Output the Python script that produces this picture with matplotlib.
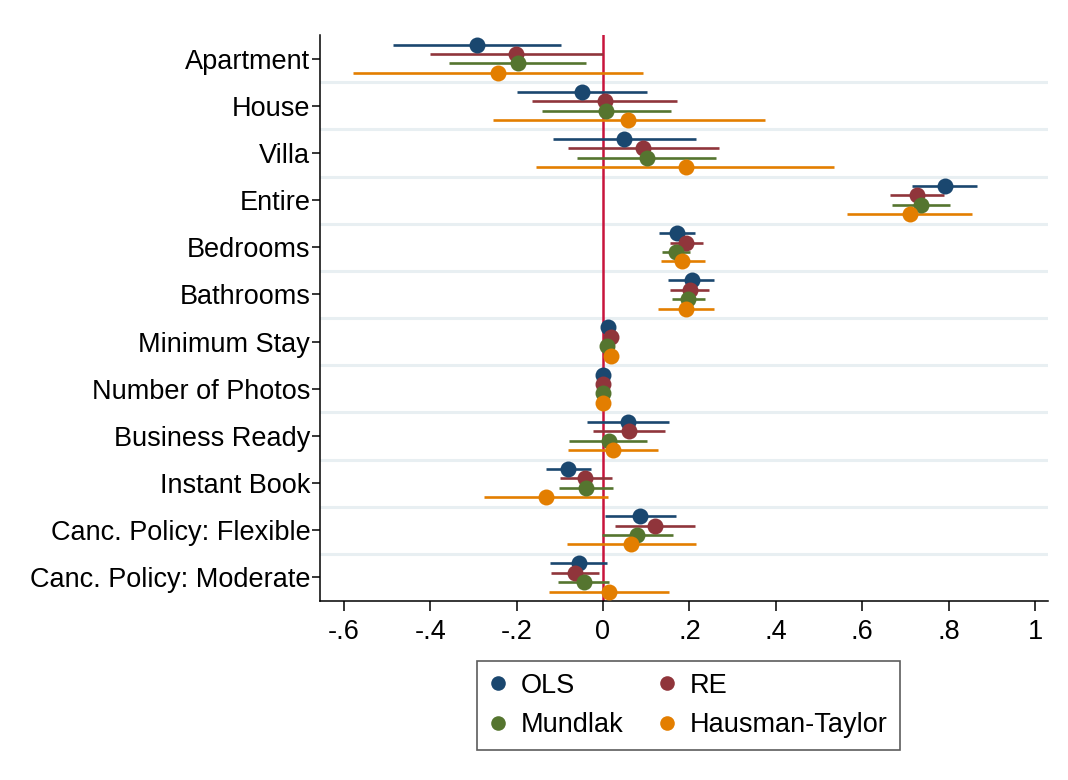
import matplotlib.pyplot as plt
import numpy as np

plt.rcParams['font.family'] = ['Liberation Sans', 'DejaVu Sans']

# coefficient estimates and 95% confidence bounds per model
variables = ['Apartment', 'House', 'Villa', 'Entire', 'Bedrooms', 'Bathrooms',
             'Minimum Stay', 'Number of Photos', 'Business Ready', 'Instant Book',
             'Canc. Policy: Flexible', 'Canc. Policy: Moderate']

ols_coef = [-0.291, -0.048, 0.049, 0.791, 0.171, 0.205, 0.012, 0.000, 0.059, -0.080, 0.086, -0.056]
ols_lo = [-0.485, -0.198, -0.116, 0.715, 0.129, 0.151, 0.008, -0.002, -0.036, -0.131, 0.005, -0.123]
ols_hi = [-0.097, 0.103, 0.215, 0.866, 0.212, 0.258, 0.016, 0.002, 0.153, -0.028, 0.168, 0.010]

re_coef = [-0.201, 0.005, 0.093, 0.727, 0.193, 0.201, 0.019, 0.000, 0.060, -0.041, 0.120, -0.065]
re_lo = [-0.400, -0.164, -0.080, 0.665, 0.154, 0.155, 0.015, -0.002, -0.023, -0.100, 0.027, -0.121]
re_hi = [-0.001, 0.171, 0.268, 0.789, 0.232, 0.246, 0.023, 0.002, 0.143, 0.021, 0.212, -0.009]

mundlak_coef = [-0.197, 0.007, 0.101, 0.737, 0.168, 0.197, 0.010, 0.000, 0.013, -0.039, 0.079, -0.044]
mundlak_lo = [-0.356, -0.140, -0.059, 0.668, 0.136, 0.160, 0.006, -0.002, -0.078, -0.101, -0.002, -0.103]
mundlak_hi = [-0.039, 0.157, 0.262, 0.804, 0.201, 0.236, 0.014, 0.002, 0.103, 0.024, 0.161, 0.015]

ht_coef = [-0.242, 0.059, 0.191, 0.710, 0.184, 0.193, 0.019, 0.000, 0.024, -0.132, 0.064, 0.013]
ht_lo = [-0.578, -0.255, -0.155, 0.564, 0.134, 0.127, 0.014, -0.002, -0.080, -0.276, -0.084, -0.126]
ht_hi = [0.093, 0.374, 0.535, 0.853, 0.235, 0.258, 0.024, 0.002, 0.128, 0.012, 0.215, 0.152]

models = [
    ('OLS', ols_coef, ols_lo, ols_hi, '#1a476f', -0.3),
    ('RE', re_coef, re_lo, re_hi, '#90353b', -0.1),
    ('Mundlak', mundlak_coef, mundlak_lo, mundlak_hi, '#55752f', 0.1),
    ('Hausman-Taylor', ht_coef, ht_lo, ht_hi, '#e37e00', 0.3),
]

fig = plt.figure(figsize=(10.68, 7.8), dpi=100)
ax = fig.add_axes([0.2996, 0.2295, 0.6817, 0.7255])

rows = np.arange(len(variables))

# light separators between variables
for sep in rows[:-1] + 0.5:
    ax.axhline(sep, color='#e8eff2', linewidth=2.2, zorder=0)

ax.axvline(0, color='#c8143c', linewidth=1.8, zorder=1)

handles = []
for name, coef, lo, hi, color, off in models:
    y = rows + off
    ax.hlines(y, lo, hi, color=color, linewidth=1.9, zorder=2)
    ax.plot(coef, y, 'o', color=color, markersize=11.5, markeredgewidth=0, zorder=3)
    handles.append(ax.plot([], [], 'o', color=color, markersize=10.5, markeredgewidth=0,
                           label=name)[0])

ax.set_ylim(len(variables) - 0.5, -0.5)
ax.set_xlim(-0.655, 1.030)
ax.set_yticks(rows)
ax.set_yticklabels(variables, fontsize=19.5)

xticks = [-0.6, -0.4, -0.2, 0, 0.2, 0.4, 0.6, 0.8, 1]
xtick_labels = ['-.6', '-.4', '-.2', '0', '.2', '.4', '.6', '.8', '1']
ax.set_xticks(xticks)
ax.set_xticklabels(xtick_labels, fontsize=19.5)

ax.tick_params(axis='y', length=6, width=1.1, pad=1)
ax.tick_params(axis='x', length=7, width=1.1, pad=6)
for side in ['top', 'right']:
    ax.spines[side].set_visible(False)
for side in ['left', 'bottom']:
    ax.spines[side].set_linewidth(1.1)

# legend order: OLS, RE / Mundlak, Hausman-Taylor
leg_order = [handles[0], handles[2], handles[1], handles[3]]
leg = fig.legend(handles=leg_order, loc='center', bbox_to_anchor=(0.6447, 0.0955), ncol=2,
                 fontsize=19.5, frameon=True, fancybox=False, edgecolor='#333333',
                 handlelength=0.6, handletextpad=0.55, columnspacing=1.3,
                 borderpad=0.45, labelspacing=0.5, borderaxespad=0)
leg.get_frame().set_linewidth(1.2)

fig.savefig('out.png', dpi=100, facecolor='white')
